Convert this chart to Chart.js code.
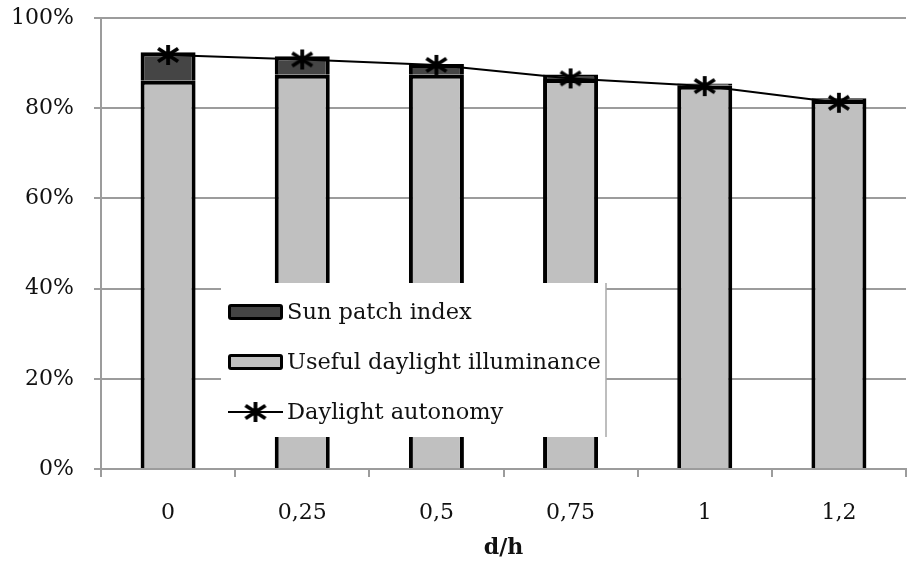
<!DOCTYPE html>
<html>
<head>
<meta charset="utf-8">
<script src="https://cdn.jsdelivr.net/npm/chart.js@4.4.1/dist/chart.umd.min.js"></script>
<style>
  html, body { margin: 0; padding: 0; background: #fff; overflow: hidden; }
  #wrap { position: relative; width: 918px; height: 566px; }
</style>
</head>
<body>
<div id="wrap"><canvas id="c"></canvas></div>
<script>
// d/h ratios on the x axis
const categories = ['0', '0,25', '0,5', '0,75', '1', '1,2'];
// stacked bar parts (percent)
const usefulDaylight = [86.1, 87.4, 87.4, 86.5, 85.0, 81.8];
const sunPatch = [6.3, 4.1, 2.4, 1.0, 0.5, 0.4];
// line series (percent)
const daylightAutonomy = [91.8, 90.8, 89.6, 86.6, 84.9, 81.2];
// y axis ticks
const yTicks = [0, 20, 40, 60, 80, 100];

const seriesNames = ['Sun patch index', 'Useful daylight illuminance', 'Daylight autonomy'];

const FONT = 'DejaVu Serif';
const GRID = '#9c9c9c';

// asterisk marker used for the line points and its legend entry
function makeAsterisk() {
  const s = 24, c = document.createElement('canvas');
  c.width = s; c.height = s;
  const g = c.getContext('2d');
  g.strokeStyle = '#000';
  g.lineWidth = 3.8;
  g.lineCap = 'butt';
  const m = s / 2;
  g.beginPath();
  g.moveTo(m, m - 10); g.lineTo(m, m + 10);
  g.moveTo(m - 10, m - 6.5); g.lineTo(m + 10, m + 6.5);
  g.moveTo(m - 10, m + 6.5); g.lineTo(m + 10, m - 6.5);
  g.stroke();
  return c;
}
const asterisk = makeAsterisk();

// legend box floating over the plot
const innerLegend = {
  id: 'innerLegend',
  afterDraw(chart) {
    const ctx = chart.ctx;
    const x0 = 221, y0 = 283, x1 = 606, y1 = 437;
    ctx.save();
    ctx.fillStyle = '#fff';
    ctx.fillRect(x0, y0, x1 - x0, y1 - y0);
    ctx.strokeStyle = '#a8a8a8';
    ctx.lineWidth = 1.5;
    ctx.beginPath();
    ctx.moveTo(x1, y0); ctx.lineTo(x1, y1);
    ctx.stroke();

    const ds = chart.data.datasets;
    const rows = [
      { d: ds[1], y: 312 },
      { d: ds[0], y: 362 },
      { d: ds[2], y: 412 }
    ];
    ctx.font = '22.5px "' + FONT + '"';
    ctx.textBaseline = 'middle';
    ctx.textAlign = 'left';
    rows.forEach(r => {
      if (r.d.type === 'line') {
        ctx.strokeStyle = '#000';
        ctx.lineWidth = 2;
        ctx.beginPath();
        ctx.moveTo(228, r.y); ctx.lineTo(283, r.y);
        ctx.stroke();
        ctx.drawImage(asterisk, 255.5 - asterisk.width / 2, r.y - asterisk.height / 2);
      } else {
        ctx.fillStyle = '#000';
        ctx.beginPath();
        ctx.roundRect(228, r.y - 8, 55, 16, 3);
        ctx.fill();
        ctx.fillStyle = r.d.backgroundColor;
        ctx.fillRect(231, r.y - 5, 49, 10);
      }
      ctx.fillStyle = '#111';
      ctx.fillText(r.d.label, 287, r.y + 1);
    });
    ctx.restore();
  }
};

new Chart(document.getElementById('c'), {
  data: {
    labels: categories,
    datasets: [
      {
        type: 'bar',
        label: seriesNames[1],
        data: usefulDaylight,
        backgroundColor: '#c0c0c0',
        borderColor: '#000',
        borderWidth: 4,
        stack: 'bars',
        order: 2,
        barPercentage: 0.41,
        categoryPercentage: 1
      },
      {
        type: 'bar',
        label: seriesNames[0],
        data: sunPatch,
        backgroundColor: '#454545',
        borderColor: '#000',
        borderWidth: 4,
        stack: 'bars',
        order: 2,
        barPercentage: 0.41,
        categoryPercentage: 1
      },
      {
        type: 'line',
        label: seriesNames[2],
        data: daylightAutonomy,
        borderColor: '#000',
        borderWidth: 2,
        pointStyle: asterisk,
        pointRadius: 10,
        stack: 'line',
        order: 0,
        fill: false,
        tension: 0
      }
    ]
  },
  options: {
    responsive: true,
    maintainAspectRatio: false,
    animation: false,
    devicePixelRatio: 1,
    layout: { padding: { top: 18, left: 0, right: 0, bottom: 0 } },
    plugins: {
      legend: { display: false },
      tooltip: { enabled: false }
    },
    scales: {
      x: {
        stacked: true,
        offset: true,
        grid: { offset: true, drawOnChartArea: false, color: GRID, lineWidth: 2, tickLength: 8 },
        border: { color: GRID, width: 2 },
        ticks: { color: '#111', font: { family: FONT, size: 22 }, padding: 23 },
        title: {
          display: true, text: 'd/h', color: '#111',
          font: { family: FONT, size: 22, weight: 'bold' },
          padding: { top: 0, bottom: 5 }
        },
        afterFit(s) { s.height = 97; }
      },
      y: {
        stacked: true,
        min: 0,
        max: 100,
        afterBuildTicks(s) { s.ticks = yTicks.map(v => ({ value: v })); },
        ticks: { color: '#111', font: { family: FONT, size: 22 }, padding: 20, callback: v => v + '%' },
        grid: { color: GRID, lineWidth: 2, tickLength: 7 },
        border: { color: GRID, width: 2 },
        afterFit(s) { s.width = 101; s.paddingTop = 0; s.paddingBottom = 0; }
      }
    }
  },
  plugins: [innerLegend]
});
</script>
</body>
</html>
